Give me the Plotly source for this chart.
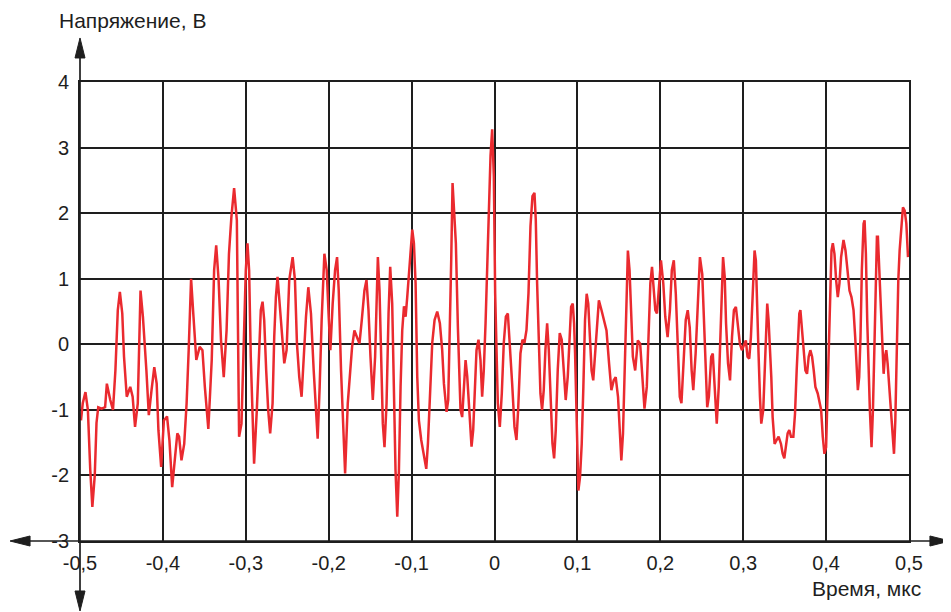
import plotly.graph_objects as go

# ---- data (time in µs, voltage in V) ----
t_seg1 = [-0.4988, -0.4967, -0.4934, -0.4905, -0.4876, -0.4851, -0.4822, -0.4801, -0.478, -0.4739,
          -0.4697, -0.4676, -0.4635, -0.4602, -0.4573, -0.4544, -0.4519, -0.449, -0.4469, -0.4436,
          -0.4394, -0.4365, -0.4336, -0.4303, -0.427, -0.4241, -0.4199, -0.417, -0.4137, -0.4104,
          -0.4075, -0.4054, -0.4021, -0.3988, -0.395, -0.3921, -0.3888, -0.3855, -0.3826, -0.3805,
          -0.3776, -0.3743, -0.3714, -0.3689, -0.366, -0.3631, -0.3597, -0.3556, -0.3523, -0.3494,
          -0.3452, -0.3411, -0.3382, -0.3357, -0.3328, -0.3299, -0.3266, -0.3232, -0.3203, -0.3174,
          -0.3141, -0.3108]
u_seg1 = [-1.16, -0.9, -0.73, -1.0, -1.92, -2.48, -2.0, -1.2, -0.96, -0.98,
          -0.96, -0.6, -0.85, -1.0, -0.4, 0.52, 0.8, 0.47, -0.19, -0.8,
          -0.65, -0.8, -1.26, -0.9, 0.82, 0.42, -0.4, -1.08, -0.7, -0.35,
          -0.6, -1.31, -1.87, -1.16, -1.1, -1.47, -2.18, -1.77, -1.36, -1.41,
          -1.77, -1.52, -0.9, -0.09, 1.0, 0.42, -0.24, -0.04, -0.09, -0.65,
          -1.29, -0.24, 1.13, 1.51, 0.98, 0.06, -0.5, 0.21, 1.38, 1.94,
          2.38, 1.89]

t_seg2 = [-0.3081, -0.3052, -0.3028, -0.3, -0.298, -0.296, -0.294, -0.292, -0.29, -0.2867,
          -0.2839, -0.2819, -0.2798, -0.2778, -0.2754, -0.273, -0.2706, -0.2677, -0.2657, -0.2637,
          -0.2617, -0.2589, -0.2565, -0.2536, -0.2508, -0.2476, -0.2435, -0.2407, -0.2383, -0.2355,
          -0.2327, -0.2302, -0.2274, -0.2246, -0.2214, -0.2181, -0.2153, -0.2133, -0.2109, -0.2085,
          -0.2052, -0.2024, -0.2, -0.198, -0.1952, -0.1923, -0.1899, -0.1879, -0.1851, -0.1823,
          -0.1802, -0.177, -0.1742, -0.1718, -0.169, -0.1657, -0.1629, -0.1601, -0.1569, -0.1544,
          -0.152, -0.1496, -0.1468, -0.144, -0.1419, -0.1407, -0.1387, -0.1367, -0.1347, -0.1327,
          -0.1302, -0.1278, -0.1258, -0.1234, -0.1214, -0.1194, -0.1173, -0.1153, -0.1133, -0.1113]
u_seg2 = [-1.41, -1.21, -0.19, 1.13, 1.54, 1.13, -0.19, -1.21, -1.82, -1.0,
          -0.19, 0.52, 0.65, 0.37, -0.4, -1.0, -1.36, -0.9, 0.11, 0.72,
          1.03, 0.62, 0.21, -0.29, -0.09, 0.98, 1.33, 0.98, 0.01, -0.5,
          -0.8, -0.19, 0.42, 0.87, 0.47, -0.4, -1.06, -1.44, -0.65, 0.37,
          1.38, 1.13, 0.42, -0.09, 0.62, 1.13, 1.33, 0.82, -0.4, -1.41,
          -1.97, -0.9, -0.4, -0.04, 0.21, 0.11, 0.01, 0.37, 0.82, 0.98,
          0.52, -0.19, -0.85, -0.19, 1.03, 1.33, 0.82, -0.19, -1.21, -1.57,
          -0.9, 0.47, 1.18, 0.62, -0.9, -1.92, -2.63, -1.92, -0.65, 0.21]

t_seg3 = [-0.1092, -0.1072, -0.1052, -0.1032, -0.1012, -0.0992, -0.0972, -0.0952, -0.0932, -0.0912,
          -0.0884, -0.0851, -0.0823, -0.0803, -0.0779, -0.0751, -0.0723, -0.0691, -0.0659, -0.0631,
          -0.061, -0.0578, -0.0558, -0.0538, -0.0522, -0.0506, -0.049, -0.0466, -0.0442, -0.0426,
          -0.041, -0.039, -0.037, -0.0349, -0.0329, -0.0301, -0.0277, -0.0257, -0.0237, -0.0217,
          -0.0193, -0.0169, -0.0149, -0.0129, -0.0108, -0.0088, -0.0068, -0.0048, -0.0028, -0.0008,
          0.0008, 0.0024, 0.004, 0.0064, 0.0088, 0.0112, 0.0137, 0.0161, 0.0185, 0.0213,
          0.0241, 0.0265, 0.0285, 0.0313, 0.0337, 0.0361, 0.0386, 0.041, 0.0434, 0.0458,
          0.0482, 0.0498, 0.0514, 0.0534, 0.0554, 0.0574, 0.0594, 0.0614, 0.0635, 0.0655,
          0.0675, 0.0699, 0.0719, 0.0739, 0.0763, 0.0787, 0.0811, 0.0835, 0.0859, 0.0884,
          0.0908]
u_seg3 = [0.58, 0.42, 0.73, 1.03, 1.44, 1.75, 1.54, 0.93, -0.49, -1.16,
          -1.46, -1.72, -1.9, -1.51, -0.75, 0.02, 0.37, 0.5, 0.32, -0.09,
          -0.6, -1.03, -0.85, 0.12, 1.29, 2.46, 2.15, 1.54, 0.27, -0.49,
          -1.0, -1.11, -0.65, -0.24, -0.49, -1.0, -1.56, -1.31, -0.6, -0.09,
          0.07, -0.24, -0.8, -0.39, 0.32, 1.29, 2.15, 2.87, 3.28, 2.56,
          0.78, -0.24, -0.9, -1.26, -0.75, 0.02, 0.42, 0.47, 0.02, -0.6,
          -1.26, -1.46, -1.0, -0.14, 0.07, 0.02, 0.22, 0.78, 1.8, 2.26,
          2.31, 1.9, 0.93, 0.02, -0.75, -1.0, -0.7, -0.09, 0.32, -0.09,
          -0.9, -1.51, -1.74, -1.31, -0.39, 0.17, 0.07, -0.49, -0.85, -0.49,
          0.12]

t_seg4 = [0.0924, 0.0944, 0.096, 0.0972, 0.0984, 0.1, 0.1012, 0.1032, 0.1052, 0.1072,
          0.1092, 0.1112, 0.1131, 0.1151, 0.1171, 0.1191, 0.1211, 0.1231, 0.1259, 0.1291,
          0.1319, 0.1351, 0.1382, 0.141, 0.1438, 0.1462, 0.149, 0.151, 0.153, 0.155,
          0.1569, 0.1589, 0.1609, 0.1629, 0.1649, 0.1669, 0.1697, 0.1729, 0.1757, 0.1781,
          0.1809, 0.1837, 0.1861, 0.188, 0.19, 0.192, 0.194, 0.196, 0.198, 0.2008,
          0.2036, 0.206, 0.2088, 0.2116, 0.2139, 0.2163, 0.2187, 0.2211, 0.2235, 0.2255,
          0.2279, 0.2307, 0.2331, 0.2355, 0.2378, 0.2398, 0.2426, 0.2454, 0.2478, 0.2506,
          0.2526, 0.2546, 0.2566, 0.2586, 0.2614, 0.2633, 0.2657, 0.2681, 0.2705, 0.2725,
          0.2745, 0.2757, 0.2777, 0.2793, 0.2817, 0.2841, 0.2865, 0.2888, 0.2912, 0.2936,
          0.296, 0.2984]
u_seg4 = [0.57, 0.62, 0.32, -0.14, -0.9, -1.67, -2.23, -2.02, -1.52, -0.65,
          0.37, 0.77, 0.62, 0.11, -0.4, -0.55, -0.19, 0.21, 0.67, 0.52,
          0.37, 0.21, -0.29, -0.7, -0.55, -0.5, -0.8, -1.26, -1.77, -1.36,
          -0.4, 0.72, 1.43, 1.13, 0.37, -0.19, -0.4, 0.06, 0.01, -0.5,
          -0.98, -0.65, 0.11, 0.93, 1.18, 0.87, 0.52, 0.47, 0.77, 1.28,
          0.93, 0.42, 0.11, 0.52, 1.13, 1.28, 0.77, -0.14, -0.8, -0.9,
          -0.4, 0.37, 0.52, 0.26, -0.4, -0.7, -0.14, 0.72, 1.33, 1.07,
          0.37, -0.4, -0.96, -0.8, -0.19, -0.14, -0.6, -1.21, -0.65, 0.21,
          0.87, 1.33, 1.03, 0.32, -0.29, -0.55, 0.11, 0.52, 0.57, 0.32,
          0.01, -0.09]

t_seg5 = [0.3012, 0.3032, 0.3052, 0.3073, 0.3093, 0.3105, 0.3121, 0.3137, 0.3153, 0.3169,
          0.3185, 0.3202, 0.3218, 0.3242, 0.3258, 0.3274, 0.329, 0.3306, 0.3323, 0.3339,
          0.3355, 0.3379, 0.3403, 0.3427, 0.3456, 0.3476, 0.3496, 0.3516, 0.3536, 0.3556,
          0.3577, 0.3605, 0.3625, 0.3645, 0.3661, 0.3677, 0.369, 0.371, 0.373, 0.375,
          0.377, 0.379, 0.381, 0.3831, 0.3851, 0.3871, 0.3899, 0.3919, 0.394, 0.396,
          0.398, 0.4, 0.402, 0.4032, 0.4048, 0.4065, 0.4081, 0.4101, 0.4121, 0.4141,
          0.4161, 0.4181, 0.421, 0.4234, 0.4258, 0.4282, 0.4306, 0.4331, 0.4351, 0.4367,
          0.4383, 0.4399, 0.4415, 0.4431, 0.4452, 0.4464, 0.448, 0.4496, 0.4512, 0.4528,
          0.4548, 0.4565, 0.4581, 0.4597, 0.4613, 0.4625, 0.4641, 0.4657, 0.4677, 0.4694,
          0.471, 0.4726, 0.4742, 0.4758, 0.4778, 0.4798, 0.4819, 0.4835, 0.4851, 0.4871,
          0.4887, 0.4907, 0.4927, 0.4948, 0.4968, 0.4988]
u_seg5 = [0.01, 0.06, -0.19, -0.22, 0.11, 0.47, 1.03, 1.43, 1.28, 0.72,
          -0.14, -0.8, -1.21, -1.0, -0.4, 0.26, 0.62, 0.37, 0.01, -0.5,
          -1.11, -1.52, -1.46, -1.41, -1.52, -1.67, -1.74, -1.52, -1.36, -1.31,
          -1.41, -1.41, -1.06, -0.4, 0.01, 0.47, 0.52, 0.21, -0.19, -0.4,
          -0.45, -0.19, -0.09, -0.19, -0.4, -0.65, -0.75, -0.85, -1.0, -1.41,
          -1.67, -1.57, -0.65, 0.11, 0.93, 1.43, 1.54, 1.38, 0.98, 0.72,
          0.93, 1.33, 1.59, 1.43, 1.13, 0.82, 0.72, 0.52, 0.11, -0.29,
          -0.7, -0.5, 0.11, 1.13, 1.84, 1.89, 1.38, 0.37, -0.4, -1.0,
          -1.57, -1.0, -0.14, 0.87, 1.64, 1.64, 1.13, 0.52, -0.19, -0.45,
          -0.19, -0.09, -0.29, -0.6, -1.0, -1.41, -1.67, -1.16, -0.14, 0.98,
          1.43, 1.84, 2.09, 2.04, 1.84, 1.33]

x_ticks = [-0.5, -0.4, -0.3, -0.2, -0.1, 0, 0.1, 0.2, 0.3, 0.4, 0.5]
x_labels = ["-0,5", "-0,4", "-0,3", "-0,2", "-0,1", "0", "0,1", "0,2", "0,3", "0,4", "0,5"]
y_ticks = [-3, -2, -1, 0, 1, 2, 3, 4]
y_labels = ["-3", "-2", "-1", "0", "1", "2", "3", "4"]
y_title = "Напряжение, В"
x_title = "Время, мкс"

time_us = t_seg1 + t_seg2 + t_seg3 + t_seg4 + t_seg5
volt = u_seg1 + u_seg2 + u_seg3 + u_seg4 + u_seg5

FONT = "Liberation Sans, Arial, sans-serif"
INK = "#1e1e1e"

fig = go.Figure()
fig.add_trace(go.Scatter(x=time_us, y=volt, mode="lines",
                         line=dict(color="#ea2a2f", width=2.5),
                         hoverinfo="skip", showlegend=False))

axis_common = dict(showgrid=True, gridcolor=INK, gridwidth=1.7,
                   showline=True, mirror=True, linecolor=INK, linewidth=1.7,
                   zeroline=False, ticks="", tickfont=dict(family=FONT, size=20, color=INK))

# axis extents (in plot-domain fractions) and arrowheads (pixel-sized paths)
X_LEFT, X_RIGHT = -0.0844, 1.0494
Y_BOTTOM, Y_TOP = -0.1525, 1.0959
AX_STYLE = dict(color=INK, width=1.7)
shapes = [
    dict(type="line", xref="x domain", yref="y domain", x0=X_LEFT + 0.01, x1=X_RIGHT - 0.01,
         y0=0, y1=0, line=AX_STYLE),
    dict(type="line", xref="x domain", yref="y domain", x0=0, x1=0,
         y0=Y_BOTTOM + 0.02, y1=Y_TOP - 0.02, line=AX_STYLE),
]
heads = [
    (X_RIGHT, 0, "M0,0 L-20,5 L-20,-5 Z"),
    (X_LEFT, 0, "M0,0 L20,5 L20,-5 Z"),
    (0, Y_TOP, "M0,0 L-5,-20 L5,-20 Z"),
    (0, Y_BOTTOM, "M0,0 L-5,20 L5,20 Z"),
]
for hx, hy, p in heads:
    shapes.append(dict(type="path", xref="x domain", yref="y domain",
                       xsizemode="pixel", ysizemode="pixel", xanchor=hx, yanchor=hy,
                       path=p, fillcolor=INK, line=dict(color=INK, width=1)))

fig.update_layout(
    width=951, height=612,
    # page body has an 8px margin; plot area placed at page px x 80..909, y 82..541
    margin=dict(l=72, r=50, t=74, b=79),
    paper_bgcolor="white", plot_bgcolor="white",
    xaxis=dict(range=[-0.5, 0.5], tickmode="array", tickvals=x_ticks, ticktext=x_labels,
               ticklabelstandoff=3, **axis_common),
    yaxis=dict(range=[-3, 4], tickmode="array", tickvals=y_ticks, ticktext=y_labels,
               ticklabelstandoff=5, **axis_common),
    shapes=shapes,
    annotations=[
        dict(xref="x domain", yref="y domain", x=-0.0277, y=1.133, xanchor="left", yanchor="middle",
             text=y_title, showarrow=False, font=dict(family=FONT, size=21, color=INK)),
        dict(xref="x domain", yref="y domain", x=1.0169, y=-0.1024, xanchor="right", yanchor="middle",
             text=x_title, showarrow=False, font=dict(family=FONT, size=21, color=INK)),
    ],
)

fig.write_html("out.html")
